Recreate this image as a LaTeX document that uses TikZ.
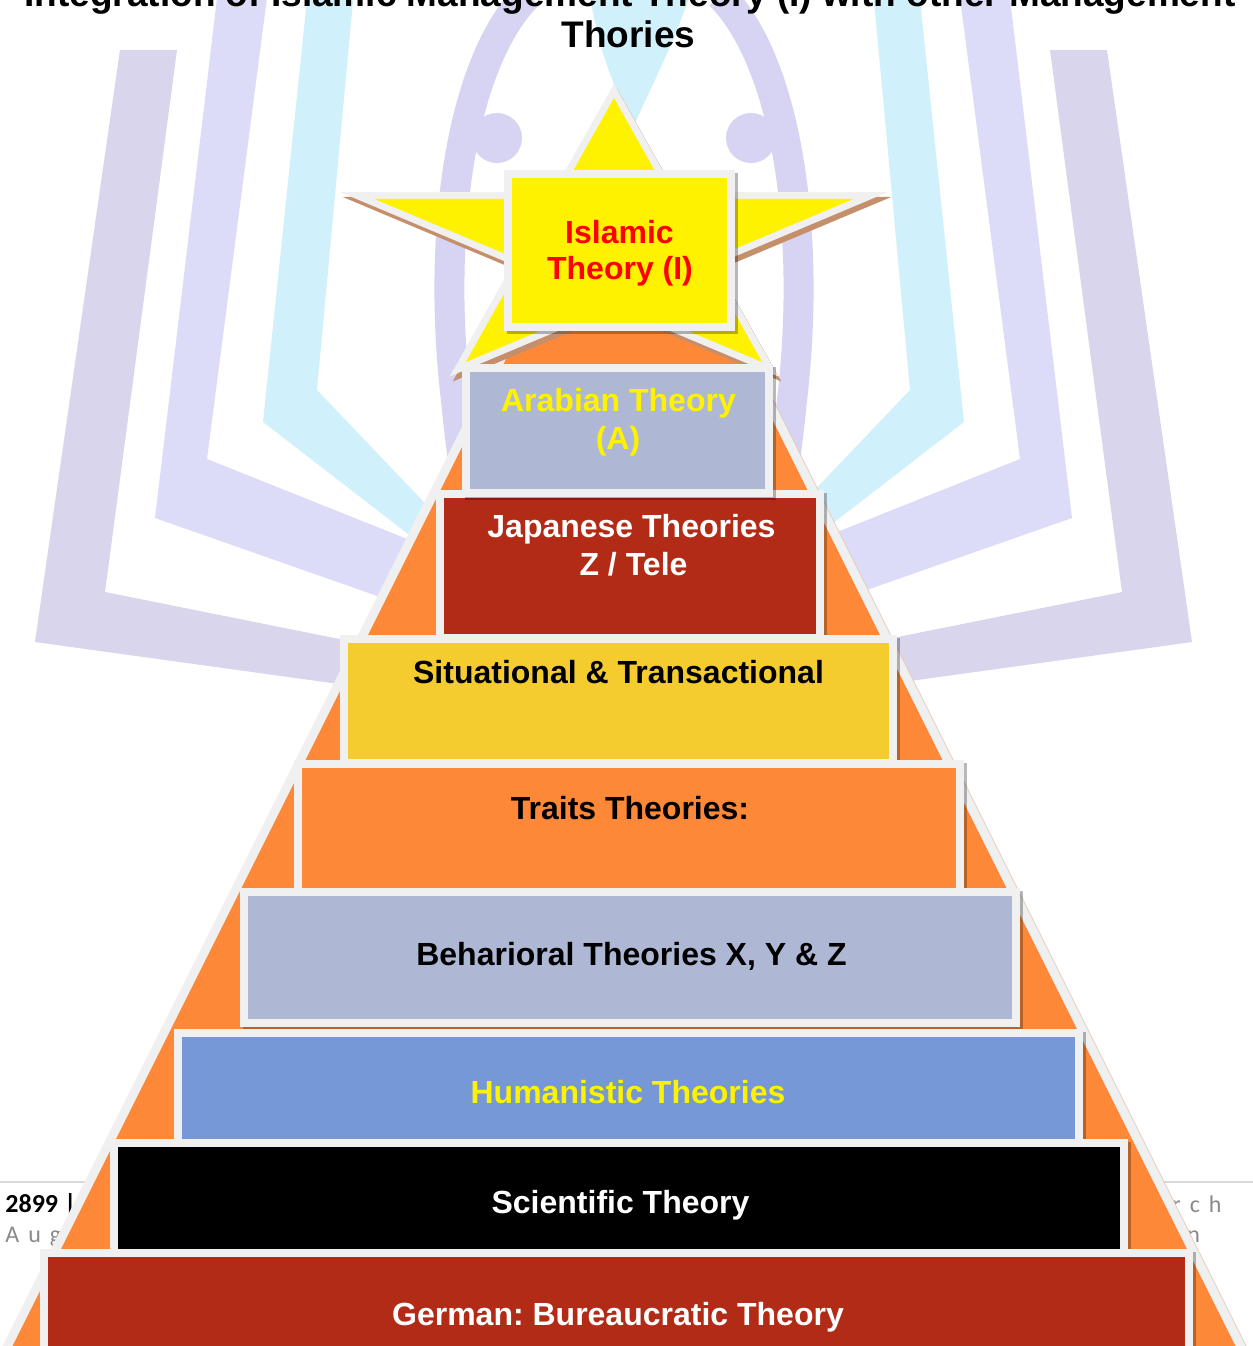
\documentclass[tikz,border=0pt]{standalone}
\usepackage{fontspec}
\setmainfont{Liberation Sans}
\newfontfamily\footfont{Carlito}
\frenchspacing

\definecolor{pyrorange}{RGB}{253,136,56}
\definecolor{rimgrey}{RGB}{240,240,240}
\definecolor{slate}{RGB}{174,184,212}
\definecolor{brick}{RGB}{178,43,23}
\definecolor{gold}{RGB}{244,204,46}
\definecolor{cornflower}{RGB}{118,152,214}
\definecolor{wmgrey}{RGB}{216,213,237}
\definecolor{wmlav}{RGB}{220,220,248}
\definecolor{wmcyan}{RGB}{208,240,251}
\definecolor{wmfig}{RGB}{215,211,242}
\definecolor{starshade}{RGB}{198,143,108}
\definecolor{footgrey}{RGB}{137,137,137}
\definecolor{footrule}{RGB}{217,217,217}

% one tier of the pyramid: name, outer x1, y1, x2, y2, fill colour
\newcommand\tierbox[6]{%
  \fill[tiershadow] (#2+3,#3+3) rectangle (#4+3,#5+3);
  \node[tier, fill=#6, minimum width={(#4-#2-8)*0.5pt}, minimum height={(#5-#3-8)*0.5pt}]
    (#1) at ({(#2+#4)/2},{(#3+#5)/2}) {};
}

% left half of the background emblem (mirrored for the right half)
\newcommand\emblemhalf{%
  \fill[wmgrey] (120,50) -- (177,50) -- (105,592) -- (613.5,694) -- (613.5,722) -- (35,642) -- cycle;
  \fill[wmlav] (218,-10) -- (268,-10) -- (207,459) -- (500,576) -- (500,639) -- (155,518) -- cycle;
  \fill[wmcyan] (308,-10) -- (354,-10) -- (317,390) -- (500,582) -- (500,605) -- (263,422) -- cycle;
}
\newcommand\figurehalf{%
  \draw[wmfig, line width=15pt] (528,-5) .. controls (462,60) and (436,230) .. (456,400)
        .. controls (462,460) and (470,520) .. (485,570);
  \fill[wmfig] (497,138) circle[radius=25];
}

% the star behind the top tier
\def\starpath{(614,98) -- (670.6,198.9) -- (853.7,198.9) -- (705.5,261.2) -- (762.2,362.1)
  -- (614,299.8) -- (465.8,362.1) -- (522.5,261.2) -- (374.3,198.9) -- (557.4,198.9) -- cycle}

\begin{document}
\begin{tikzpicture}[x=0.5pt, y=-0.5pt,
  tier/.style={rectangle, draw=rimgrey, line width=4pt, inner sep=0pt, outer sep=0pt},
  tiershadow/.style={fill=black, opacity=0.28},
  tiertext/.style={font=\fontsize{16}{19}\selectfont\bfseries, anchor=base, inner sep=0pt},
  titletext/.style={font=\fontsize{18.5}{22}\selectfont\bfseries, anchor=base, inner sep=0pt},
  foot/.style={font=\footfont\fontsize{12}{14}\selectfont, text=footgrey, anchor=base west, inner sep=0pt},
]
\useasboundingbox (0,0) rectangle (1253,1346);
\clip (0,0) rectangle (1253,1346);
\fill[white] (0,0) rectangle (1253,1346);

% background emblem
\emblemhalf
\begin{scope}[shift={(1227,0)}, xscale=-1]
  \emblemhalf
\end{scope}
\fill[wmcyan] (590,-5) .. controls (600,60) and (620,100) .. (634,125)
      .. controls (650,90) and (675,40) .. (690,-5) -- cycle;
\figurehalf
\begin{scope}[shift={(1248,0)}, xscale=-1]
  \figurehalf
\end{scope}

% heading
\node[titletext] (title1) at (630,6) {Integration of Islamic Management Theory (I) with other Management};
\node[titletext] (title2) at (628.5,47) {Thories};

% page footer behind the pyramid
\draw[footrule, line width=1pt] (0,1182) -- (200,1182);
\draw[footrule, line width=1pt] (1100,1182) -- (1253,1182);
\node[foot, font=\footfont\bfseries\fontsize{13}{15}\selectfont, text=black] (pageno) at (5,1212) {2899 |};
\node[foot] (month) at (5,1242) {A\hspace{4.5pt}u\hspace{4.5pt}g};
\node[foot] (journal) at (1172,1212) {r\hspace{4.5pt}c\hspace{4.5pt}h};
\node[foot] (issue) at (1187,1242) {n};

% pyramid
\draw[starshade!45, line width=9pt, line join=miter] (625.5,124) -- (1274,1421) -- (-23,1421) -- cycle;
\draw[rimgrey, line width=9pt, line join=miter] (624,123) -- (1272.5,1420) -- (-24.5,1420) -- cycle;
\fill[pyrorange] (624,123) -- (1272.5,1420) -- (-24.5,1420) -- cycle;

% star
\path[fill=starshade, draw=starshade, line width=7pt, line join=miter, miter limit=10, shift={(3,5)}] \starpath;
\path[draw=rimgrey, line width=7pt, line join=miter, miter limit=10] \starpath;
\fill[yellow] \starpath;

% tiers
\tierbox{islamic}{504}{170}{735}{331}{yellow}
\tierbox{japanese}{436}{490}{824}{642}{brick}
\tierbox{arabian}{462}{364}{773}{497}{slate}
\tierbox{situational}{340}{635}{897}{767}{gold}
\tierbox{traits}{294}{760}{964}{896}{pyrorange}
\tierbox{behavioral}{240}{888}{1020}{1027}{slate}
\tierbox{humanistic}{174}{1029}{1083}{1147}{cornflower}
\tierbox{scientific}{110}{1139}{1128}{1257}{black}
\tierbox{german}{40}{1249}{1193}{1360}{brick}

% tier labels
\node[tiertext, text=red] (isl1) at (619.5,243.5) {Islamic};
\node[tiertext, text=red] (isl2) at (620,279.5) {Theory (I)};
\node[tiertext, text=yellow] (ara1) at (618.5,411) {Arabian Theory};
\node[tiertext, text=yellow] (ara2) at (618,449) {(A)};
\node[tiertext, text=white] (jap1) at (631.5,537) {Japanese Theories};
\node[tiertext, text=white] (jap2) at (633.5,575) {Z / Tele};
\node[tiertext] (sitlabel) at (618.5,683.5) {Situational \& Transactional};
\node[tiertext] (traitlabel) at (630,819.5) {Traits Theories:};
\node[tiertext] (behlabel) at (631.5,965.5) {Beharioral Theories X, Y \& Z};
\node[tiertext, text=yellow] (humlabel) at (628,1103.5) {Humanistic Theories};
\node[tiertext, text=white] (scilabel) at (620.5,1213.5) {Scientific Theory};
\node[tiertext, text=white] (gerlabel) at (618,1325.5) {German: Bureaucratic Theory};
\end{tikzpicture}
\end{document}
